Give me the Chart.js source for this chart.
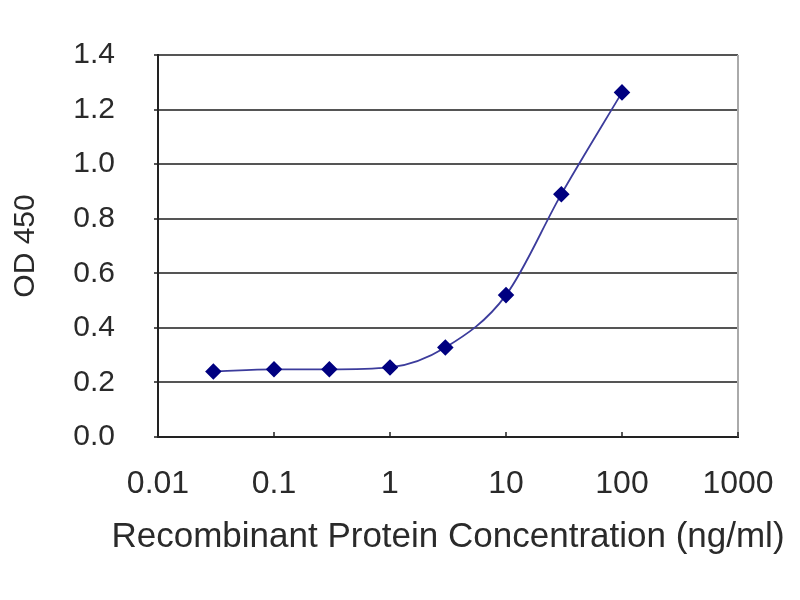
<!DOCTYPE html>
<html>
<head>
<meta charset="utf-8">
<script src="https://cdn.jsdelivr.net/npm/chart.js@4.4.1/dist/chart.umd.min.js"></script>
<style>
  html, body { margin: 0; padding: 0; background: #fff; }
  #wrap { width: 800px; height: 600px; }
</style>
</head>
<body>
<div id="wrap"><canvas id="grafico" width="800" height="600"></canvas></div>
<script>
// Dados
const concentracoes = [0.03, 0.1, 0.3, 1, 3, 10, 30, 100];
const valoresOD = [0.24, 0.248, 0.248, 0.255, 0.328, 0.52, 0.89, 1.263];
const ticksX = [0.01, 0.1, 1, 10, 100, 1000];
const rotulosX = ['0.01', '0.1', '1', '10', '100', '1000'];
const ticksY = [0, 0.2, 0.4, 0.6, 0.8, 1.0, 1.2, 1.4];
const tituloX = 'Recombinant Protein Concentration (ng/ml)';
const tituloY = 'OD 450';

const fonte = "Liberation Sans, Arial, sans-serif";
const corTexto = '#2a2a2a';

// Marcas internas no eixo x, borda direita cinza e título do eixo x
// (o título do eixo do Chart.js é comprimido à largura da área, por isso vai aqui)
const bordasExtras = {
    id: 'bordasExtras',
    afterDraw(chart) {
        const { ctx, chartArea } = chart;
        const x = chart.scales.x;
        ctx.save();
        ctx.strokeStyle = '#aaaaaa';
        ctx.lineWidth = 2;
        ctx.beginPath();
        ctx.moveTo(chartArea.right, chartArea.top);
        ctx.lineTo(chartArea.right, chartArea.bottom);
        ctx.stroke();
        ctx.strokeStyle = '#222';
        ctx.lineWidth = 1.5;
        ticksX.forEach(v => {
            const px = x.getPixelForValue(v);
            ctx.beginPath();
            ctx.moveTo(px, chartArea.bottom);
            ctx.lineTo(px, chartArea.bottom - 5);
            ctx.stroke();
        });
        ctx.fillStyle = corTexto;
        ctx.font = '35px ' + fonte;
        ctx.textAlign = 'center';
        ctx.textBaseline = 'middle';
        ctx.fillText(tituloX, (chartArea.left + chartArea.right) / 2, chartArea.bottom + 100);
        ctx.restore();
    }
};

new Chart(document.getElementById('grafico').getContext('2d'), {
    type: 'line',
    data: {
        datasets: [{
            data: concentracoes.map((c, i) => ({ x: c, y: valoresOD[i] })),
            borderColor: '#3c3c9c',
            borderWidth: 1.8,
            cubicInterpolationMode: 'monotone',
            pointStyle: 'rectRot',
            pointRadius: 7,
            pointBackgroundColor: '#000080',
            pointBorderColor: '#000080',
            fill: false
        }]
    },
    options: {
        responsive: false,
        animation: false,
        devicePixelRatio: 1,
        layout: { padding: { left: 0, top: 55, right: 62, bottom: 0 } },
        plugins: { legend: { display: false }, tooltip: { enabled: false } },
        scales: {
            x: {
                type: 'logarithmic',
                min: 0.01,
                max: 1000,
                afterBuildTicks: s => { s.ticks = ticksX.map(v => ({ value: v })); },
                afterFit: s => { s.height = 163; s.paddingLeft = 0; s.paddingRight = 0; },
                grid: { display: false, drawTicks: false },
                border: { display: true, color: '#222', width: 2 },
                ticks: {
                    autoSkip: false,
                    maxRotation: 0,
                    padding: 28,
                    color: corTexto,
                    font: { family: fonte, size: 32 },
                    callback: (v) => {
                        const i = ticksX.indexOf(v);
                        return i >= 0 ? rotulosX[i] : '';
                    }
                },
                title: { display: false }
            },
            y: {
                min: 0,
                max: 1.4,
                afterBuildTicks: s => { s.ticks = ticksY.map(v => ({ value: v })); },
                afterFit: s => { s.width = 158; s.paddingTop = 0; s.paddingBottom = 0; },
                grid: { color: '#555', lineWidth: 2, drawTicks: true, tickLength: 4 },
                border: { display: true, color: '#222', width: 2 },
                ticks: {
                    padding: 39,
                    color: corTexto,
                    font: { family: fonte, size: 30 },
                    callback: v => v.toFixed(1)
                },
                title: {
                    display: true,
                    text: tituloY,
                    color: corTexto,
                    font: { family: fonte, size: 30 },
                    padding: { top: 8, bottom: 8 }
                }
            }
        }
    },
    plugins: [bordasExtras]
});
</script>
</body>
</html>
